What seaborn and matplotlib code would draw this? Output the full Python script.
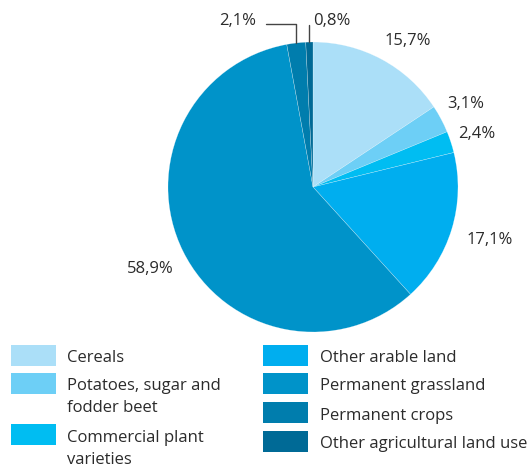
import matplotlib
matplotlib.use("Agg")
import matplotlib.pyplot as plt
import seaborn as sns
from matplotlib.patches import Rectangle
import numpy as np

categories = ["Cereals", "Potatoes, sugar and\nfodder beet", "Commercial plant\nvarieties",
              "Other arable land", "Permanent grassland", "Permanent crops",
              "Other agricultural land use"]
values = [15.7, 3.1, 2.4, 17.1, 58.9, 2.1, 0.8]
value_labels = ["15,7%", "3,1%", "2,4%", "17,1%", "58,9%", "2,1%", "0,8%"]
colors = ["#abdff8", "#6dcff6", "#00bdf2", "#00aeef", "#0093c9", "#007dad", "#006a96"]

sns.set_theme(style="white")
plt.rcParams['font.family'] = ['Open Sans', 'DejaVu Sans']
TXT = "#2b2b2b"
FS = 12

W, H = 531, 466
fig = plt.figure(figsize=(W / 100, H / 100), dpi=100)
fig.patch.set_facecolor("white")

cx, cy, R = 313, 187, 145
ax = fig.add_axes([(cx - R) / W, (H - (cy + R)) / H, 2 * R / W, 2 * R / H])
wedges, _ = ax.pie(values, colors=colors, startangle=90, counterclock=False, radius=1,
                   wedgeprops=dict(edgecolor=(1, 1, 1, 0.5), linewidth=0.3))
ax.set_xlim(-1, 1)
ax.set_ylim(-1, 1)
ax.set_aspect("equal")
ax.axis("off")


def d(px, py):
    return (px - cx) / R, (cy - py) / R


label_pos = [(408, 41), (466, 104), (477, 134), (490, 240), (150, 269), (238, 21), (332, 21)]
for lab, (px, py) in zip(value_labels, label_pos):
    x, y = d(px, py)
    ax.text(x, y, lab, ha="center", va="center", fontsize=FS, color=TXT, clip_on=False)

# leader lines for the two small slices
for i in (5, 6):
    w = wedges[i]
    mid = np.deg2rad((w.theta1 + w.theta2) / 2)
    x0, y0 = np.cos(mid), np.sin(mid)
    if i == 5:
        ytop = d(0, 24)[1]
        xl = d(266, 0)[0]
        ax.plot([x0, x0, xl], [y0, ytop, ytop], color="#444444", lw=1, clip_on=False)
    else:
        ytop = d(0, 25)[1]
        ax.plot([x0, x0], [y0, ytop], color="#444444", lw=1, clip_on=False)

# legend (manual, two columns)
def fx(px):
    return px / W


def fy(py):
    return (H - py) / H


left_rows = [(0, 345), (1, 373), (2, 424)]
right_rows = [(3, 345), (4, 373), (5, 402), (6, 431)]
for rows, sx, tx in ((left_rows, 11, 67), (right_rows, 263, 320)):
    for idx, top in rows:
        fig.add_artist(Rectangle((fx(sx), fy(top + 21)), 45 / W, 21 / H,
                                 transform=fig.transFigure, facecolor=colors[idx],
                                 edgecolor="none"))
        for k, line in enumerate(categories[idx].split("\n")):
            fig.text(fx(tx), fy(top + 17.5 + 22 * k), line, ha="left", va="baseline",
                     fontsize=FS, color=TXT)

fig.savefig("out.png", dpi=100, facecolor="white")
